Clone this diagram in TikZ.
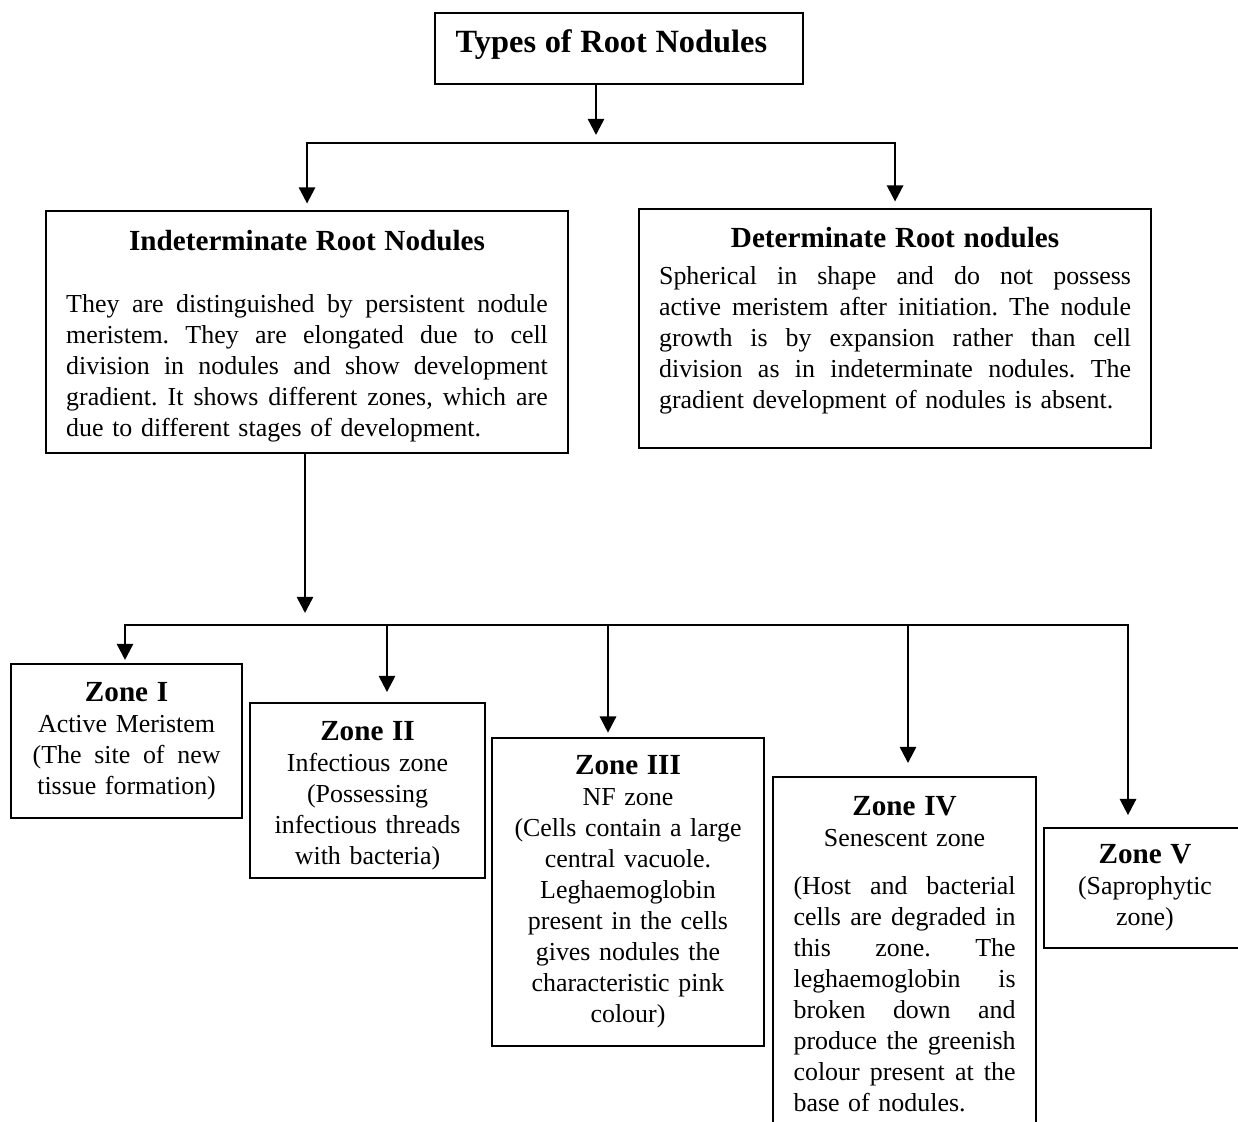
\documentclass[tikz,border=0pt]{standalone}
\usepackage{fontspec}
\setmainfont{Liberation Serif}
\usetikzlibrary{positioning, arrows.meta, calc}
\setlength{\parindent}{0pt}
\frenchspacing

\newcommand{\fline}[1]{{\spaceskip=0.25em plus 1fil\makebox[\hsize][s]{#1}}}
\newcommand{\lline}[1]{\makebox[\hsize][l]{#1}}
\newcommand{\zhead}[1]{{\fontsize{13.5}{14.35}\selectfont\bfseries #1}}

\begin{document}
\begin{tikzpicture}[
    x=0.463pt, y=-0.463pt,
    box/.style={
        rectangle,
        draw=black,
        fill=white,
        line width=0.95pt,
        inner sep=0pt,
        anchor=north west,
        font=\fontsize{12}{14.35}\selectfont
    },
    arrow/.style={
        -{Triangle[length=7.5pt, width=7.5pt]},
        line width=1.15pt
    },
    bar/.style={
        line width=0.95pt,
        line cap=rect
    }
]
\useasboundingbox (0,0) rectangle (1238,1122);
\clip (0,0) rectangle (1238,1122);

% Nodes
\node[box, minimum width=170.4pt, minimum height=32.9pt, text width=160pt, text depth=7pt] (title) at (434,12)
    {\centering\fontsize{15}{17}\selectfont\bfseries Types of Root Nodules\hspace*{7pt}\par};

\node[box, minimum width=241.7pt, minimum height=112pt, text width=223pt] (indet) at (45,210)
    {\centering\zhead{Indeterminate Root Nodules}\\[14.5pt]
     \fline{They are distinguished by persistent nodule}\\
     \fline{meristem. They are elongated due to cell}\\
     \fline{division in nodules and show development}\\
     \fline{gradient. It shows different zones, which are}\\
     \lline{due to different stages of development.}\par\kern-3.7pt};

\node[box, minimum width=237.1pt, minimum height=110.7pt, text width=218.5pt] (det) at (638,208)
    {\centering\zhead{Determinate Root nodules}\\[3pt]
     \fline{Spherical in shape and do not possess}\\
     \fline{active meristem after initiation. The nodule}\\
     \fline{growth is by expansion rather than cell}\\
     \fline{division as in indeterminate nodules. The}\\
     \lline{gradient development of nodules is absent.}\par\kern7.4pt};

\node[box, minimum width=107pt, minimum height=71.3pt, text width=87pt] (zone1) at (10,663)
    {\centering\zhead{Zone I}\\ Active Meristem\\ \fline{(The site of new}\\ tissue formation)\par};

\node[box, minimum width=108.8pt, minimum height=81pt, text width=100pt] (zone2) at (249,702)
    {\centering\zhead{Zone II}\\ Infectious zone\\ (Possessing\\ infectious threads\\ with bacteria)\par\kern-5pt};

\node[box, minimum width=125.9pt, minimum height=142.6pt, text width=118pt] (zone3) at (491,737)
    {\centering\zhead{Zone III}\\ NF zone\\ (Cells contain a large\\ central vacuole.\\ Leghaemoglobin\\
     present in the cells\\ gives nodules the\\ characteristic pink\\ colour)\par};

\node[box, minimum width=121.8pt, minimum height=163.9pt, text width=102.8pt] (zone4) at (772,776)
    {\centering\zhead{Zone IV}\\ Senescent zone\\[8pt]
     \fline{(Host and bacterial}\\
     \fline{cells are degraded in}\\
     \fline{this zone. The}\\
     \fline{leghaemoglobin is}\\
     \fline{broken down and}\\
     \fline{produce the greenish}\\
     \fline{colour present at the}\\
     \lline{base of nodules.}\par};

\node[box, minimum width=93.5pt, minimum height=55.6pt, text width=85pt] (zone5) at (1043,827)
    {\centering\zhead{Zone V}\\ (Saprophytic\\ zone)\par};

% Title -> the two kinds of nodules
\coordinate (fork1) at (596,143);
\draw[arrow] (title.south -| fork1) -- ($(fork1)+(0,-8)$);
\draw[arrow, shorten >=3pt] (fork1) -| (indet);
\draw[arrow, shorten >=3pt] (fork1) -| (det);

% Indeterminate nodules -> zones
\coordinate (fork2) at (305,625);
\draw[arrow] (indet.south -| fork2) -- ($(fork2)+(0,-12)$);
\foreach \n/\x/\gap in {1/125/1.4pt, 2/387/4.6pt, 3/608/2pt, 4/908/6pt, 5/1128/5.5pt} {
    \coordinate (drop\n) at (\x,625);
    \draw[arrow, shorten >=\gap] (drop\n) -- (drop\n |- zone\n.north);
}
\draw[bar] (drop1) -- (drop5);

\end{tikzpicture}
\end{document}
